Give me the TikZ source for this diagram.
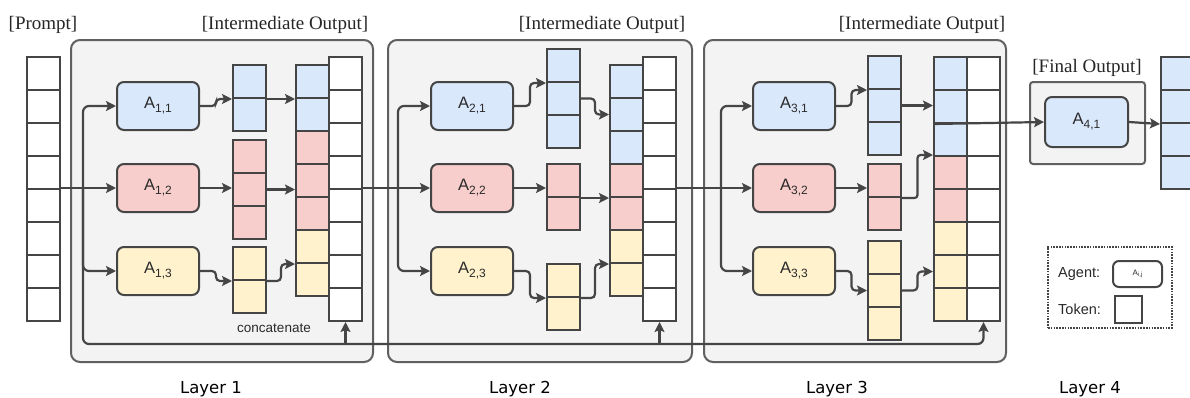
\documentclass[tikz,border=0pt]{standalone}
\usepackage{fontspec}
\setmainfont{Liberation Serif}
\setsansfont{Liberation Sans}
\newfontfamily\layerfont{DejaVu Sans}
\usetikzlibrary{arrows.meta,calc}

\definecolor{edgec}{HTML}{454545}
\definecolor{framec}{HTML}{606060}
\definecolor{panelc}{HTML}{F3F3F3}
\definecolor{bluec}{HTML}{DAE8FC}
\definecolor{redc}{HTML}{F8CECC}
\definecolor{yelc}{HTML}{FFF2CC}
\definecolor{textc}{HTML}{2A2A2A}

% a vertical stack of token cells: name, left x, top y, list of fills
\newcommand\tokcol[4]{%
  \foreach \f [count=\i] in {#4} {%
    \node[cell, fill=\f] (#1-\i) at (#2, {#3+33*(\i-1)}) {};}}
% agent label with subscript
\newcommand\ag[2]{A\raisebox{-0.45ex}{\fontsize{12}{13}\selectfont #1,#2}}

\tikzset{
  cell/.style={draw=edgec, line width=2pt, minimum width=33pt, minimum height=33pt,
    inner sep=0pt, anchor=north west},
  agent/.style={draw=edgec, line width=2pt, rounded corners=7pt, minimum width=82pt,
    minimum height=48pt, inner sep=0pt, font=\sffamily\fontsize{16.5}{18}\selectfont, text=textc},
  layerbox/.style={draw=framec, fill=panelc, line width=2pt, rounded corners=9pt},
  flow/.style={draw=edgec, line width=2.2pt,
    -{Stealth[length=10pt 0,width=10pt 0,inset=2pt 0]}},
  wiggle/.style={to path={let \p1=(\tikztostart), \p2=(\tikztotarget) in
    -- ({0.5*\x1+0.5*\x2},\y1) -- ({0.5*\x1+0.5*\x2},\y2) -- (\tikztotarget)}},
  toplabel/.style={font=\fontsize{19}{22}\selectfont, anchor=base, text=black!85, inner sep=0pt},
  layerlabel/.style={font=\layerfont\fontsize{16.5}{18}\selectfont, anchor=base, inner sep=0pt},
  keytext/.style={font=\sffamily\fontsize{14.5}{16}\selectfont, anchor=west, inner sep=0pt, text=textc},
}

\begin{document}
\begin{tikzpicture}[x=1pt,y=-1pt]
\useasboundingbox (0,0) rectangle (1190,397);
\clip (0,0) rectangle (1190,397);
\fill[white] (0,0) rectangle (1190,397);

% layer panels
\draw[layerbox] (71,40) rectangle (373,362);
\draw[layerbox] (388,40) rectangle (692,362);
\draw[layerbox] (704,40) rectangle (1006,362);
\node[draw=framec, fill=panelc, line width=2pt, rounded corners=3pt,
  minimum width=115pt, minimum height=82pt, inner sep=0pt] (fframe) at (1087.5,123) {};

% headings
\node[toplabel] (hprompt) at (43,29.5) {[Prompt]};
\node[toplabel] (hint1) at (285,29.5) {[Intermediate Output]};
\node[toplabel] (hint2) at (602,29.5) {[Intermediate Output]};
\node[toplabel] (hint3) at (922,29.5) {[Intermediate Output]};
\node[toplabel] (hfinal) at (1087,72) {[Final Output]};

\node[layerlabel] (lay1) at (211,393) {Layer 1};
\node[layerlabel] (lay2) at (520,393) {Layer 2};
\node[layerlabel] (lay3) at (837,393) {Layer 3};
\node[layerlabel] (lay4) at (1090,393) {Layer 4};

% prompt tokens
\tokcol{P}{26}{56}{white,white,white,white,white,white,white,white}

% layer 1
\node[agent, fill=bluec] (A11) at (158,106) {\ag{1}{1}};
\node[agent, fill=redc]  (A12) at (158,188) {\ag{1}{2}};
\node[agent, fill=yelc]  (A13) at (158,271) {\ag{1}{3}};
\tokcol{s11}{232}{64}{bluec,bluec}
\tokcol{s12}{232}{139}{redc,redc,redc}
\tokcol{s13}{232}{246}{yelc,yelc}
\tokcol{k1}{295}{64}{bluec,bluec,redc,redc,redc,yelc,yelc}
\tokcol{w1}{328}{56}{white,white,white,white,white,white,white,white}
\node[font=\sffamily\fontsize{13.5}{15}\selectfont, text=textc] (concat) at (274,328) {concatenate};

% layer 2
\node[agent, fill=bluec] (A21) at (472,106) {\ag{2}{1}};
\node[agent, fill=redc]  (A22) at (472,188) {\ag{2}{2}};
\node[agent, fill=yelc]  (A23) at (472,271) {\ag{2}{3}};
\tokcol{s21}{546}{48}{bluec,bluec,bluec}
\tokcol{s22}{546}{163}{redc,redc}
\tokcol{s23}{546}{263}{yelc,yelc}
\tokcol{k2}{609}{64}{bluec,bluec,bluec,redc,redc,yelc,yelc}
\tokcol{w2}{642}{56}{white,white,white,white,white,white,white,white}

% layer 3
\node[agent, fill=bluec] (A31) at (794,106) {\ag{3}{1}};
\node[agent, fill=redc]  (A32) at (794,188) {\ag{3}{2}};
\node[agent, fill=yelc]  (A33) at (794,271) {\ag{3}{3}};
\tokcol{s31}{867}{55}{bluec,bluec,bluec}
\tokcol{s32}{867}{163}{redc,redc}
\tokcol{s33}{867}{240}{yelc,yelc,yelc}
\tokcol{k3}{933}{56}{bluec,bluec,bluec,redc,redc,yelc,yelc,yelc}
\tokcol{w3}{966}{56}{white,white,white,white,white,white,white,white}

% layer 4
\node[agent, fill=bluec, minimum width=83pt, minimum height=50pt] (A41) at (1086.5,122) {\ag{4}{1}};
\tokcol{F}{1160}{56}{bluec,bluec,bluec,bluec}

% branch points
\coordinate (br1) at (83,188);
\coordinate (br2) at (398,188);
\coordinate (br3) at (721,188);
\coordinate (res) at (83,344);

% prompt into layer 1, and the prompt carried to every concatenation
\draw[flow] (P-5.north east) -- (A12.west);
\draw[flow, rounded corners=6pt] (br1) |- (A11.west);
\draw[flow, rounded corners=6pt] (br1) |- (A13.west);
\draw[flow, rounded corners=6pt] (br1) -- (res) -| (w3-8.south);
\draw[flow] (w1-8.south |- res) -- (w1-8.south);
\draw[flow] (w2-8.south |- res) -- (w2-8.south);

% layer 1 flows
\draw[flow, rounded corners=4pt] (A11.east) to[wiggle] (s11-1.south west);
\draw[flow] (s11-1.south east) -- (k1-1.south west);
\draw[flow] (A12.east) -- (A12.east -| s12-2.west);
\draw[flow] (s12-2.east) -- (s12-2.east -| k1-1.west);
\draw[flow, rounded corners=4pt] (A13.east) to[wiggle] (s13-1.south west);
\draw[flow, rounded corners=4pt] (s13-1.south east) to[wiggle] (k1-6.south west);

% layer 2 flows
\draw[flow] (w1-5.north east) -- (A22.west);
\draw[flow, rounded corners=6pt] (br2) |- (A21.west);
\draw[flow, rounded corners=6pt] (br2) |- (A23.west);
\draw[flow, rounded corners=4pt] (A21.east) to[wiggle] (s21-1.south west);
\draw[flow, rounded corners=4pt] (s21-2.east) to[wiggle] (k2-2.west);
\draw[flow] (A22.east) -- (A22.east -| s22-1.west);
\draw[flow] (s22-1.south east) -- (k2-4.south west);
\draw[flow, rounded corners=4pt] (A23.east) to[wiggle] (s23-1.south west);
\draw[flow, rounded corners=4pt] (s23-1.south east) to[wiggle] (k2-6.south west);

% layer 3 flows
\draw[flow] (w2-5.north east) -- (A32.west);
\draw[flow, rounded corners=6pt] (br3) |- (A31.west);
\draw[flow, rounded corners=6pt] (br3) |- (A33.west);
\draw[flow, rounded corners=4pt] (A31.east) to[wiggle] (s31-1.south west);
\draw[flow] (s31-2.east) -- (s31-2.east -| k3-1.west);
\draw[flow] (A32.east) -- (A32.east -| s32-1.west);
\draw[flow, rounded corners=3pt] (s32-1.south east) to[wiggle] (k3-4.north west);
\draw[flow, rounded corners=4pt] (A33.east) to[wiggle] (s33-2.west);
\draw[flow, rounded corners=4pt] (s33-2.east) to[wiggle] (k3-7.west);

% layer 4 flows
\draw[flow] (k3-2.south west) -- (A41.west);
\draw[flow] (A41.east) -- (F-2.south west);

% key
\node[draw=edgec, line width=2.2pt, dash pattern=on 1.6pt off 1.2pt,
  minimum width=124pt, minimum height=81pt, inner sep=0pt] (legend) at (1110,287.5) {};
\node[keytext] (agtxt) at (1058,274) {Agent:};
\node[draw=edgec, line width=2pt, rounded corners=6pt, fill=white, minimum width=49pt,
  minimum height=26pt, inner sep=0pt, font=\sffamily\fontsize{8}{9}\selectfont, text=textc]
  (agkey) at (1137.5,274) {A\raisebox{-0.4ex}{\fontsize{6}{7}\selectfont i,j}};
\node[keytext] (tktxt) at (1058,309.5) {Token:};
\node[draw=edgec, line width=2pt, minimum width=27pt, minimum height=27pt, inner sep=0pt]
  (tkkey) at (1128.5,309.5) {};
\end{tikzpicture}
\end{document}
